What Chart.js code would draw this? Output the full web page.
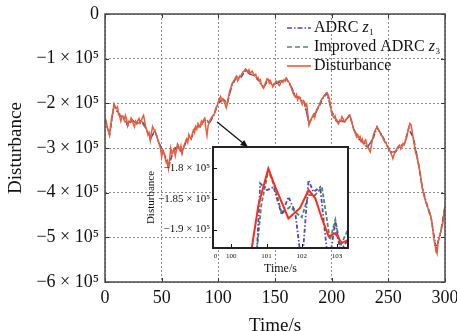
<!DOCTYPE html>
<html><head><meta charset="utf-8">
<script src="https://cdn.jsdelivr.net/npm/chart.js@4.4.0/dist/chart.umd.min.js"></script>
<style>
html,body{margin:0;padding:0;background:#fff;}
#wrap{position:relative;width:457px;height:331px;overflow:hidden;}
#main{position:absolute;left:0;top:0;}
#inset{position:absolute;left:130px;top:140px;}
</style></head><body>
<div id="wrap"><canvas id="main" width="457" height="331"></canvas><canvas id="inset" width="225" height="140"></canvas></div>
<script>
// ---- Data (values in units of 10^5) ----
const time = [0,1,2,3,4,5,6,7,8,9,10,11,12,13,14,15,16,17,18,19,20,21,22,23,24,25,26,27,28,29,30,31,32,33,34,35,36,37,38,39,40,41,42,43,44,45,46,47,48,49,50,51,52,53,54,55,56,57,58,59,60,61,62,63,64,65,66,67,68,69,70,71,72,73,74,75,76,77,78,79,80,81,82,83,84,85,86,87,88,89,90,91,92,93,94,95,96,97,98,99,100,101,102,103,104,105,106,107,108,109,110,111,112,113,114,115,116,117,118,119,120,121,122,123,124,125,126,127,128,129,130,131,132,133,134,135,136,137,138,139,140,141,142,143,144,145,146,147,148,149,150,151,152,153,154,155,156,157,158,159,160,161,162,163,164,165,166,167,168,169,170,171,172,173,174,175,176,177,178,179,180,181,182,183,184,185,186,187,188,189,190,191,192,193,194,195,196,197,198,199,200,201,202,203,204,205,206,207,208,209,210,211,212,213,214,215,216,217,218,219,220,221,222,223,224,225,226,227,228,229,230,231,232,233,234,235,236,237,238,239,240,241,242,243,244,245,246,247,248,249,250,251,252,253,254,255,256,257,258,259,260,261,262,263,264,265,266,267,268,269,270,271,272,273,274,275,276,277,278,279,280,281,282,283,284,285,286,287,288,289,290,291,292,293,294,295,296,297,298,299,300];
const disturbance = [
-2.34,-2.40,-2.55,-2.62,-2.71,-2.48,-2.30,-2.18,-2.02,-2.10,
-2.12,-2.08,-2.23,-2.30,-2.40,-2.28,-2.30,-2.38,-2.27,-2.35,
-2.50,-2.40,-2.42,-2.33,-2.38,-2.47,-2.53,-2.40,-2.45,-2.38,
-2.34,-2.45,-2.40,-2.32,-2.27,-2.40,-2.55,-2.60,-2.71,-2.66,
-2.83,-2.65,-2.52,-2.58,-2.60,-2.70,-2.76,-2.85,-2.92,-3.02,
-3.20,-3.05,-3.10,-3.22,-3.32,-3.28,-3.46,-3.25,-3.00,-3.12,
-3.08,-3.02,-3.18,-3.05,-2.92,-3.00,-3.05,-2.95,-3.12,-3.02,
-2.92,-2.86,-2.80,-2.88,-2.70,-2.76,-2.80,-2.68,-2.60,-2.66,
-2.52,-2.58,-2.45,-2.50,-2.52,-2.40,-2.45,-2.38,-2.34,-2.55,
-2.72,-2.50,-2.42,-2.36,-2.32,-2.28,-2.25,-2.20,-2.10,-2.05,
-1.98,-1.90,-1.85,-1.95,-1.90,-1.96,-2.02,-2.10,-2.00,-1.85,
-1.72,-1.65,-1.58,-1.52,-1.48,-1.44,-1.40,-1.50,-1.46,-1.38,
-1.40,-1.33,-1.29,-1.27,-1.24,-1.28,-1.30,-1.25,-1.33,-1.30,
-1.28,-1.34,-1.38,-1.35,-1.45,-1.42,-1.50,-1.47,-1.58,-1.62,
-1.66,-1.58,-1.52,-1.45,-1.46,-1.55,-1.50,-1.57,-1.63,-1.56,
-1.55,-1.50,-1.52,-1.58,-1.60,-1.54,-1.50,-1.53,-1.47,-1.50,
-1.44,-1.48,-1.52,-1.56,-1.62,-1.70,-1.78,-1.82,-1.86,-1.80,
-1.92,-1.85,-1.88,-1.96,-2.02,-1.94,-1.98,-2.06,-2.02,-2.25,
-2.48,-2.40,-2.35,-2.30,-2.26,-2.32,-2.22,-2.16,-2.10,-2.04,
-1.98,-1.92,-1.88,-1.84,-1.82,-1.78,-1.76,-1.82,-1.90,-2.05,
-2.20,-2.28,-2.32,-2.28,-2.38,-2.42,-2.46,-2.38,-2.40,-2.30,
-2.34,-2.42,-2.40,-2.35,-2.32,-2.28,-2.26,-2.35,-2.45,-2.55,
-2.62,-2.68,-2.75,-2.70,-2.78,-2.74,-2.85,-2.80,-2.90,-2.86,
-2.82,-2.92,-2.98,-3.04,-3.09,-2.95,-2.80,-2.70,-2.62,-2.58,
-2.53,-2.58,-2.62,-2.66,-2.72,-2.76,-2.82,-2.86,-2.90,-2.95,
-2.98,-3.04,-3.10,-3.16,-3.24,-3.15,-3.08,-3.04,-3.00,-2.96,
-2.94,-3.02,-2.98,-2.90,-2.92,-2.85,-2.78,-2.66,-2.55,-2.45,
-2.48,-2.62,-2.78,-2.95,-3.10,-3.18,-3.28,-3.40,-3.55,-3.72,
-3.90,-4.02,-4.12,-4.20,-4.28,-4.35,-4.40,-4.48,-4.60,-4.78,
-5.00,-5.15,-5.28,-5.36,-5.10,-4.98,-4.90,-4.80,-4.70,-4.50,
-4.30];
const timeCoarse = [0,4,8,12,16,20,24,28,32,36,40,44,48,52,56,60,64,68,72,76,80,84,88,92,96,100,104,108,112,116,120,124,128,132,136,140,144,148,152,156,160,164,168,172,176,180,184,188,192,196,200,204,208,212,216,220,224,228,232,236,240,244,248,252,256,260,264,268,272,276,280,284,288,292,296,300];
const adrcZ1 = [-2.36,-2.68,-2.05,-2.25,-2.32,-2.47,-2.40,-2.43,-2.38,-2.52,-2.80,-2.62,-2.90,-3.12,-3.42,-3.10,-2.95,-3.10,-2.82,-2.78,-2.55,-2.50,-2.37,-2.45,-2.27,-2.00,-1.92,-1.98,-1.60,-1.42,-1.42,-1.27,-1.35,-1.36,-1.52,-1.64,-1.48,-1.60,-1.54,-1.52,-1.46,-1.60,-1.84,-1.90,-2.00,-2.44,-2.28,-2.12,-1.90,-1.78,-2.17,-2.40,-2.42,-2.38,-2.28,-2.60,-2.80,-2.88,-2.96,-2.83,-2.55,-2.70,-2.88,-3.08,-3.10,-2.96,-2.90,-2.58,-2.75,-3.25,-3.88,-4.25,-4.58,-5.24,-4.93,-4.33];
const improvedZ3 = [-2.33,-2.72,-2.03,-2.22,-2.29,-2.51,-2.37,-2.46,-2.41,-2.56,-2.82,-2.59,-2.93,-3.09,-3.45,-3.07,-2.91,-3.13,-2.79,-2.81,-2.51,-2.53,-2.33,-2.43,-2.24,-1.97,-1.89,-2.01,-1.57,-1.39,-1.41,-1.23,-1.34,-1.39,-1.49,-1.67,-1.45,-1.62,-1.51,-1.49,-1.43,-1.63,-1.87,-1.87,-1.97,-2.47,-2.25,-2.09,-1.87,-1.75,-2.21,-2.37,-2.39,-2.41,-2.25,-2.63,-2.77,-2.91,-2.99,-2.79,-2.52,-2.73,-2.91,-3.11,-3.07,-2.93,-2.93,-2.54,-2.79,-3.29,-3.91,-4.29,-4.61,-5.29,-4.89,-4.29];

const xTickValues = [0,50,100,150,200,250,300];
const xTickLabels = ['0','50','100','150','200','250','300'];
const yTickValues = [0,-1,-2,-3,-4,-5,-6];
const yTickLabels = ['0','\u22121 \u00d7 10\u2075','\u22122 \u00d7 10\u2075','\u22123 \u00d7 10\u2075','\u22124 \u00d7 10\u2075','\u22125 \u00d7 10\u2075','\u22126 \u00d7 10\u2075'];
const legendLabels = ['ADRC ', 'Improved ADRC ', 'Disturbance'];
const legendSubs = ['1', '3', ''];

// zoomed inset (100 s .. 103 s)
const insetTimeDist = [100.3,100.58,100.77,101.05,101.25,101.62,101.95,102.19,102.38,102.57,102.76,102.95,103.13,103.31];
const insetDist = [-1.98,-1.93,-1.86,-1.801,-1.831,-1.882,-1.865,-1.836,-1.849,-1.882,-1.911,-1.906,-1.922,-1.917];
const insetTimeZ1 = [100.6,100.73,100.82,101.01,101.2,101.43,101.62,101.81,102.0,102.19,102.33,102.52,102.76,102.95,103.09,103.28,103.31];
const insetZ1 = [-1.98,-1.93,-1.825,-1.836,-1.831,-1.876,-1.847,-1.871,-1.96,-1.820,-1.839,-1.831,-1.96,-1.887,-1.935,-1.919,-1.915];
const insetTimeZ3 = [100.6,100.73,100.85,101.05,101.24,101.43,101.67,101.86,102.0,102.19,102.38,102.57,102.8,102.95,103.09,103.31];
const insetZ3 = [-1.98,-1.93,-1.86,-1.804,-1.833,-1.874,-1.863,-1.874,-1.88,-1.844,-1.844,-1.831,-1.917,-1.884,-1.927,-1.9];
const insetXTicks = [99.55,100,101,102,103];
const insetXLabels = ['0','100','101','102','103'];
const insetYTicks = [-1.8,-1.85,-1.9];
const insetYLabels = ['\u22121.8 \u00d7 10\u2075','\u22121.85 \u00d7 10\u2075','\u22121.9 \u00d7 10\u2075'];
const arrowFrom = [99, -2.42];
const arrowTo = [126, -2.98];

// ---- Styles ----
const SERIF = '"Liberation Serif", "Times New Roman", serif';
const C_DIST = '#f25a35', C_Z1 = '#4f47b8', C_Z3 = '#4f8a68';
const C_DIST_IN = '#ff2a1a';
const DASH_Z1 = [5,2,1.5,2], DASH_Z3 = [5,3];

function pts(xs, ys){ return xs.map((x,i)=>({x:x, y:ys[i]})); }

const mainPlugin = {
  id:'mainDeco',
  afterDraw(chart){
    const ctx = chart.ctx, a = chart.chartArea, sx = chart.scales.x, sy = chart.scales.y;
    ctx.save();
    ctx.strokeStyle = '#333'; ctx.lineWidth = 1;
    xTickValues.forEach(v=>{const p=Math.round(sx.getPixelForValue(v))+0.5;
      ctx.beginPath(); ctx.moveTo(p,a.bottom); ctx.lineTo(p,a.bottom-4); ctx.moveTo(p,a.top); ctx.lineTo(p,a.top+4); ctx.stroke();});
    yTickValues.forEach(v=>{const p=Math.round(sy.getPixelForValue(v))+0.5;
      ctx.beginPath(); ctx.moveTo(a.left,p); ctx.lineTo(a.left+4,p); ctx.moveTo(a.right,p); ctx.lineTo(a.right-4,p); ctx.stroke();});
    ctx.strokeStyle = '#4a4a4a'; ctx.lineWidth = 1.5;
    ctx.strokeRect(a.left, a.top, a.right-a.left, a.bottom-a.top);
    const x1 = sx.getPixelForValue(arrowFrom[0]), y1 = sy.getPixelForValue(arrowFrom[1]);
    const x2 = sx.getPixelForValue(arrowTo[0]), y2 = sy.getPixelForValue(arrowTo[1]);
    ctx.strokeStyle = '#111'; ctx.fillStyle = '#111'; ctx.lineWidth = 1.3;
    ctx.beginPath(); ctx.moveTo(x1,y1); ctx.lineTo(x2,y2); ctx.stroke();
    const ang = Math.atan2(y2-y1, x2-x1), L = 8, W = 0.42;
    ctx.beginPath(); ctx.moveTo(x2,y2);
    ctx.lineTo(x2 - L*Math.cos(ang-W), y2 - L*Math.sin(ang-W));
    ctx.lineTo(x2 - L*Math.cos(ang+W), y2 - L*Math.sin(ang+W));
    ctx.closePath(); ctx.fill();
    const rows = [28, 47, 66];
    const colors = [C_Z1, C_Z3, C_DIST];
    const dashes = [DASH_Z1, DASH_Z3, []];
    rows.forEach((y,i)=>{
      ctx.save(); ctx.strokeStyle = colors[i]; ctx.lineWidth = 1.6; ctx.setLineDash(dashes[i]);
      ctx.beginPath(); ctx.moveTo(287,y); ctx.lineTo(311,y); ctx.stroke(); ctx.restore();
      ctx.fillStyle = '#111'; ctx.textBaseline = 'middle'; ctx.textAlign = 'left';
      let x = 314;
      ctx.font = '16px ' + SERIF; ctx.fillText(legendLabels[i], x, y); x += ctx.measureText(legendLabels[i]).width;
      if (legendSubs[i]) {
        ctx.font = 'italic 16px ' + SERIF; ctx.fillText('z', x, y); x += ctx.measureText('z').width;
        ctx.font = '9px ' + SERIF; ctx.fillText(legendSubs[i], x+0.5, y+5);
      }
    });
    ctx.restore();
  }
};

new Chart(document.getElementById('main'), {
  type:'line',
  data:{datasets:[
    {label:'Disturbance', data:pts(time, disturbance), borderColor:C_DIST, borderWidth:1.5, order:0},
    {label:'ADRC z1', data:pts(timeCoarse, adrcZ1), borderColor:C_Z1, borderWidth:1.4, borderDash:DASH_Z1, order:1},
    {label:'Improved ADRC z3', data:pts(timeCoarse, improvedZ3), borderColor:C_Z3, borderWidth:1.4, borderDash:DASH_Z3, order:2}
  ]},
  options:{
    responsive:false, animation:false, devicePixelRatio:1,
    layout:{padding:{top:14, right:12, left:0, bottom:0}},
    plugins:{legend:{display:false}, tooltip:{enabled:false}},
    elements:{point:{radius:0}, line:{tension:0, fill:false}},
    scales:{
      x:{type:'linear', min:0, max:300,
        afterBuildTicks:s=>{s.ticks = xTickValues.map(v=>({value:v}));},
        afterFit:s=>{s.height = 49; s.paddingLeft = 0; s.paddingRight = 0;},
        ticks:{font:{family:SERIF, size:18}, color:'#111', padding:5, maxRotation:0, autoSkip:false,
          callback:v=>xTickLabels[xTickValues.indexOf(v)]},
        grid:{color:'#8c8c8c', lineWidth:1, drawTicks:false},
        border:{display:false, dash:[2,2]},
        title:{display:true, text:'Time/s', font:{family:SERIF, size:19}, color:'#111', padding:{top:0, bottom:-6.5}}
      },
      y:{type:'linear', min:-6, max:0,
        afterBuildTicks:s=>{s.ticks = yTickValues.map(v=>({value:v}));},
        afterFit:s=>{s.width = 105; s.paddingTop = 0; s.paddingBottom = 0;},
        ticks:{font:{family:SERIF, size:18}, color:'#111', padding:6, autoSkip:false,
          callback:v=>yTickLabels[yTickValues.indexOf(v)]},
        grid:{color:'#8c8c8c', lineWidth:1, drawTicks:false},
        border:{display:false, dash:[2,2]},
        title:{display:true, text:'Disturbance', font:{family:SERIF, size:19}, color:'#111', padding:{top:5, bottom:0}}
      }
    }
  },
  plugins:[mainPlugin]
});

const insetPlugin = {
  id:'insetDeco',
  beforeDraw(chart){
    const ctx = chart.ctx, a = chart.chartArea;
    ctx.save(); ctx.fillStyle = '#fff'; ctx.fillRect(a.left, a.top, a.right-a.left, a.bottom-a.top); ctx.restore();
  },
  afterDraw(chart){
    const ctx = chart.ctx, a = chart.chartArea, sx = chart.scales.x, sy = chart.scales.y;
    ctx.save();
    ctx.strokeStyle = '#111'; ctx.lineWidth = 1;
    insetXTicks.slice(1).forEach(v=>{const p=Math.round(sx.getPixelForValue(v))+0.5;
      ctx.beginPath(); ctx.moveTo(p,a.bottom); ctx.lineTo(p,a.bottom-4); ctx.stroke();});
    insetYTicks.forEach(v=>{const p=Math.round(sy.getPixelForValue(v))+0.5;
      ctx.beginPath(); ctx.moveTo(a.left,p); ctx.lineTo(a.left+4,p); ctx.stroke();});
    ctx.strokeStyle = '#222'; ctx.lineWidth = 2;
    ctx.strokeRect(a.left, a.top, a.right-a.left, a.bottom-a.top);
    ctx.restore();
  }
};

new Chart(document.getElementById('inset'), {
  type:'line',
  data:{datasets:[
    {label:'Disturbance', data:pts(insetTimeDist, insetDist), borderColor:C_DIST_IN, borderWidth:2, order:0},
    {label:'ADRC z1', data:pts(insetTimeZ1, insetZ1), borderColor:C_Z1, borderWidth:1.8, borderDash:[4,2,1.5,2], order:1},
    {label:'Improved ADRC z3', data:pts(insetTimeZ3, insetZ3), borderColor:C_Z3, borderWidth:1.8, borderDash:[4,2], order:2}
  ]},
  options:{
    responsive:false, animation:false, devicePixelRatio:1,
    layout:{padding:{top:7, right:7, left:0, bottom:0}},
    plugins:{legend:{display:false}, tooltip:{enabled:false}},
    elements:{point:{radius:0}, line:{tension:0, fill:false}},
    scales:{
      x:{type:'linear', min:99.48, max:103.31,
        afterBuildTicks:s=>{s.ticks = insetXTicks.map(v=>({value:v}));},
        afterFit:s=>{s.height = 32; s.paddingLeft = 0; s.paddingRight = 0;},
        ticks:{font:{family:SERIF, size:7}, color:'#111', padding:4, maxRotation:0, autoSkip:false,
          callback:v=>insetXLabels[insetXTicks.indexOf(v)]},
        grid:{display:false, drawTicks:false},
        border:{display:false},
        title:{display:true, text:'Time/s', font:{family:SERIF, size:12}, color:'#111', padding:{top:0, bottom:4}}
      },
      y:{type:'linear', min:-1.930, max:-1.766,
        afterBuildTicks:s=>{s.ticks = insetYTicks.map(v=>({value:v}));},
        afterFit:s=>{s.width = 83; s.paddingTop = 0; s.paddingBottom = 0;},
        ticks:{font:{family:SERIF, size:11}, color:'#111', padding:3, autoSkip:false,
          callback:v=>insetYLabels[insetYTicks.indexOf(v)]},
        grid:{display:false, drawTicks:false},
        border:{display:false},
        title:{display:true, text:'Disturbance', font:{family:SERIF, size:11}, color:'#111', padding:{top:15, bottom:0}}
      }
    }
  },
  plugins:[insetPlugin]
});
</script>
</body></html>
